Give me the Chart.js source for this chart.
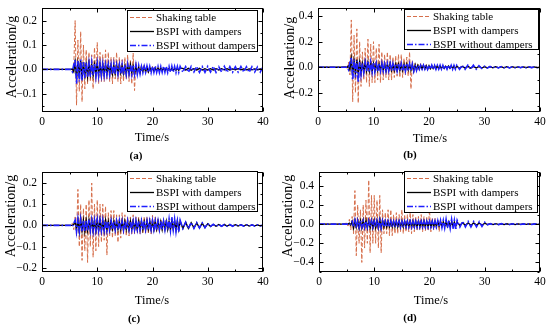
<!DOCTYPE html>
<html><head><meta charset="utf-8">
<script src="https://cdn.jsdelivr.net/npm/chart.js@4.4.1/dist/chart.umd.min.js"></script>
<style>
html,body{margin:0;padding:0;background:#fff;}
#wrap{position:relative;width:550px;height:328px;overflow:hidden;font-family:"Liberation Serif","Times New Roman",serif;color:#000;}
.pane{position:absolute;width:275px;height:164px;}
.pane canvas{display:block;}
.lbl{position:absolute;transform:translate(-50%,-50%);white-space:nowrap;font-size:12.5px;line-height:1;}
.ytl{transform:translate(-50%,-50%) rotate(-90deg);font-size:14px;}
.cap{font-weight:bold;font-size:11px;}
</style></head><body>
<div id="wrap">
  <div class="pane" style="left:0;top:0"><canvas id="ca" width="275" height="164"></canvas></div>
  <div class="pane" style="left:275px;top:0"><canvas id="cb" width="275" height="164"></canvas></div>
  <div class="pane" style="left:0;top:164px"><canvas id="cc" width="275" height="164"></canvas></div>
  <div class="pane" style="left:275px;top:164px"><canvas id="cd" width="275" height="164"></canvas></div>

  <div class="lbl ytl" style="left:12px;top:57px">Acceleration/g</div>
  <div class="lbl ytl" style="left:290px;top:58px">Acceleration/g</div>
  <div class="lbl ytl" style="left:11px;top:216px">Acceleration/g</div>
  <div class="lbl ytl" style="left:288px;top:216px">Acceleration/g</div>

  <div class="lbl" style="left:152px;top:137px">Time/s</div>
  <div class="lbl" style="left:430px;top:138px">Time/s</div>
  <div class="lbl" style="left:152px;top:300px">Time/s</div>
  <div class="lbl" style="left:431px;top:300px">Time/s</div>

  <div class="lbl cap" style="left:136px;top:155px">(a)</div>
  <div class="lbl cap" style="left:410px;top:154px">(b)</div>
  <div class="lbl cap" style="left:134px;top:318px">(c)</div>
  <div class="lbl cap" style="left:410px;top:317px">(d)</div>
</div>
<script>
// ---------- data ----------
const T = [0,1,2,3,4,
5,5.25,5.5,5.75,6,6.25,6.5,6.75,7,7.25,7.5,7.75,8,8.25,8.5,8.75,9,9.25,9.5,9.75,
10,10.25,10.5,10.75,11,11.25,11.5,11.75,12,12.25,12.5,12.75,13,13.25,13.5,13.75,14,14.25,14.5,14.75,
15,15.25,15.5,15.75,16,16.25,16.5,16.75,17,17.25,17.5,17.75,18,18.25,18.5,18.75,19,19.25,19.5,19.75,
20,20.25,20.5,20.75,21,21.25,21.5,21.75,22,22.25,22.5,22.75,23,23.25,23.5,23.75,24,24.25,24.5,24.75,25,
25.5,26,26.5,27,27.5,28,28.5,29,29.5,30,30.5,31,31.5,32,32.5,33,33.5,34,34.5,35,35.5,36,36.5,37,37.5,38,38.5,39,39.5,40];

const xTicks = [0,10,20,30,40];
const legendLabels = ['Shaking table','BSPI with dampers','BSPI without dampers'];

// (a)
const tableA = [0,0,0,0,0,
0,0.003,-0.004,0.012, 0.2,-0.147,0.12,-0.09, 0.155,-0.133,0.1,-0.08, 0.08,-0.06,0.07,-0.05, 0.06,-0.08,0.09,-0.05,
0.11,-0.06,0.07,-0.05, 0.06,-0.05,0.08,-0.04, 0.07,-0.05,0.05,-0.06, 0.05,-0.04,0.07,-0.05, 0.05,-0.06,0.04,-0.05,
0.05,-0.04,0.06,-0.05, 0.04,-0.06,0.067,-0.087, 0.03,-0.02,0.015,-0.02, 0.015,-0.01,0.02,-0.015, 0.01,-0.015,0.01,-0.01,
0.012,-0.008,0.01,-0.01, 0.008,-0.01,0.01,-0.006, 0.008,-0.006,0.006,-0.008, 0.005,-0.006,0.006,-0.004, 0.005,-0.004,0.004,-0.005, 0.004,
0.003,-0.003,0.003,-0.002,0.003,-0.003,0.002,-0.002,0.002,-0.003,0.002,-0.002,0.002,-0.002,0.002,-0.002,0.002,-0.002,0.001,-0.002,0.002,-0.001,0.001,-0.002,0.001,-0.001,0.001,-0.001,0.001,0];
const withA = [0,0,0,0,0,
0,0,0.002,-0.01, 0.03,-0.035,0.025,-0.02, 0.035,-0.04,0.03,-0.025, 0.02,-0.03,0.025,-0.02, 0.02,-0.025,0.02,-0.02,
0.025,-0.02,0.02,-0.025, 0.018,-0.02,0.02,-0.018, 0.02,-0.018,0.015,-0.02, 0.015,-0.018,0.02,-0.015, 0.018,-0.015,0.015,-0.018,
0.015,-0.02,0.018,-0.015, 0.02,-0.015,0.015,-0.02, 0.012,-0.015,0.01,-0.012, 0.01,-0.008,0.01,-0.01, 0.008,-0.01,0.008,-0.006,
0.006,-0.008,0.006,-0.006, 0.005,-0.005,0.006,-0.005, 0.005,-0.006,0.005,-0.005, 0.004,-0.005,0.005,-0.004, 0.004,-0.004,0.005,-0.004, 0.004,
0.004,-0.003,0.004,-0.004,0.003,-0.003,0.004,-0.003,0.003,-0.003,0.003,-0.003,0.003,-0.003,0.003,-0.002,0.003,-0.003,0.002,-0.002,0.003,-0.002,0.002,-0.002,0.002,-0.002,0.002,-0.002,0.002,0];
const withoutA = [0,0,0,0,0,
0,0,-0.01,0.02, 0.04,-0.06,0.035,-0.05, 0.04,-0.045,0.03,-0.035, 0.03,-0.03,0.025,-0.03, 0.028,-0.025,0.025,-0.03,
0.025,-0.028,0.022,-0.025, 0.022,-0.025,0.02,-0.022, 0.02,-0.022,0.02,-0.02, 0.022,-0.02,0.018,-0.02, 0.02,-0.018,0.02,-0.022,
0.018,-0.02,0.022,-0.018, 0.02,-0.02,0.018,-0.02, 0.018,-0.02,0.015,-0.018, 0.012,-0.014,0.012,-0.012, 0.014,-0.012,0.012,-0.014,
0.012,-0.012,0.014,-0.012, 0.012,-0.013,0.012,-0.012, 0.013,-0.012,0.012,-0.013, 0.012,-0.012,0.013,-0.012, 0.012,-0.013,0.012,-0.012, 0.012,
-0.012,0.011,-0.012,0.012,-0.011,0.012,-0.012,0.011,-0.012,0.012,-0.011,0.012,-0.012,0.011,-0.011,0.012,-0.012,0.011,-0.012,0.011,-0.011,0.012,-0.011,0.011,-0.012,0.011,-0.011,0.01,-0.011,0.01];
const yTicksA = [-0.1,0,0.1,0.2];
const yRangeA = [-0.175,0.25];

// (b)
const tableB = [0,0,0,0,0,
0.005,-0.01,0.04,-0.06, 0.37,-0.27,0.25,-0.2, 0.3,-0.28,0.2,-0.15, 0.12,-0.1,0.15,-0.12, 0.22,-0.15,0.18,-0.12,
0.2,-0.12,0.15,-0.1, 0.18,-0.12,0.12,-0.1, 0.1,-0.08,0.12,-0.1, 0.1,-0.1,0.08,-0.08, 0.09,-0.07,0.1,-0.08,
0.1,-0.08,0.07,-0.06, 0.08,-0.07,0.12,-0.17, 0.05,-0.04,0.03,-0.03, 0.025,-0.02,0.03,-0.02, 0.02,-0.02,0.02,-0.015,
0.015,-0.015,0.012,-0.012, 0.01,-0.01,0.012,-0.01, 0.01,-0.008,0.01,-0.01, 0.008,-0.01,0.008,-0.008, 0.008,-0.006,0.008,-0.006, 0.006,
-0.005,0.005,-0.004,0.005,-0.004,0.004,-0.004,0.004,-0.003,0.004,-0.003,0.003,-0.003,0.003,-0.003,0.003,-0.002,0.003,-0.002,0.002,-0.002,0.002,-0.002,0.002,-0.002,0.002,-0.001,0.002,-0.001,0];
const withB = [0,0,0,0,0,
0,0,0.01,-0.02, 0.07,-0.06,0.05,-0.05, 0.06,-0.05,0.04,-0.04, 0.03,-0.035,0.04,-0.03, 0.04,-0.03,0.035,-0.03,
0.03,-0.03,0.03,-0.025, 0.025,-0.025,0.028,-0.025, 0.025,-0.028,0.025,-0.022, 0.028,-0.025,0.022,-0.025, 0.025,-0.022,0.025,-0.025,
0.022,-0.025,0.025,-0.022, 0.025,-0.022,0.022,-0.025, 0.02,-0.03,0.02,-0.02, 0.015,-0.015,0.015,-0.012, 0.015,-0.012,0.012,-0.015,
0.012,-0.012,0.012,-0.01, 0.01,-0.01,0.01,-0.01, 0.01,-0.01,0.008,-0.01, 0.008,-0.01,0.01,-0.008, 0.01,-0.008,0.008,-0.008, 0.008,
-0.008,0.008,-0.007,0.008,-0.007,0.007,-0.006,0.006,-0.006,0.005,-0.005,0.005,-0.005,0.004,-0.004,0.004,-0.004,0.004,-0.004,0.004,-0.003,0.003,-0.003,0.003,-0.003,0.003,-0.003,0.003,-0.003,0];
const withoutB = [0,0,0,0,0,
0,0,-0.02,0.04, 0.08,-0.1,0.06,-0.08, 0.05,-0.12,0.04,-0.06, 0.03,-0.04,0.04,-0.03, 0.05,-0.04,0.04,-0.04,
0.04,-0.035,0.03,-0.035, 0.03,-0.03,0.032,-0.03, 0.028,-0.03,0.03,-0.028, 0.03,-0.028,0.028,-0.03, 0.028,-0.03,0.03,-0.03,
0.03,-0.028,0.028,-0.03, 0.03,-0.03,0.028,-0.028, 0.025,-0.03,0.02,-0.025, 0.015,-0.016,0.015,-0.015, 0.016,-0.015,0.015,-0.016,
0.015,-0.015,0.016,-0.015, 0.015,-0.016,0.015,-0.015, 0.016,-0.015,0.015,-0.016, 0.015,-0.015,0.016,-0.015, 0.015,-0.016,0.015,-0.015, 0.015,
-0.016,0.015,-0.016,0.016,-0.015,0.016,-0.015,0.012,-0.01,0.008,-0.007,0.006,-0.006,0.006,-0.005,0.005,-0.005,0.005,-0.005,0.004,-0.004,0.004,-0.004,0.004,-0.004,0.003,-0.003,0.003,-0.003,0.003];
const yTicksB = [-0.2,0,0.2,0.4];
const yRangeB = [-0.35,0.46];

// (c)
const tableC = [0,0,0,0,0,
0,0.005,0.01,-0.02, 0.04,-0.05,0.17,-0.1, 0.1,-0.165,0.08,-0.12, 0.1,-0.175,0.12,-0.1, 0.2,-0.15,0.1,-0.12,
0.12,-0.1,0.1,-0.08, 0.1,-0.07,0.09,-0.14, 0.06,-0.05,0.07,-0.06, 0.07,-0.05,0.05,-0.08, 0.05,-0.06,0.06,-0.04,
0.05,-0.05,0.04,-0.05, 0.04,-0.04,0.05,-0.04, 0.04,-0.035,0.04,-0.04, 0.035,-0.04,0.04,-0.035, 0.04,-0.04,0.035,-0.04,
0.048,-0.03,0.04,-0.03, 0.03,-0.03,0.025,-0.025, 0.02,-0.02,0.022,-0.02, 0.02,-0.022,0.02,-0.018, 0.018,-0.02,0.018,-0.015, 0.015,
-0.01,0.01,-0.01,0.01,-0.008,0.008,-0.008,0.007,-0.006,0.006,-0.005,0.004,-0.004,0.004,-0.004,0.004,-0.003,0.003,-0.003,0.003,-0.003,0.003,-0.003,0.003,-0.002,0.002,-0.002,0.002,-0.002,0];
const withC = [0,0,0,0,0,
0,0,0,0.005, 0.02,-0.02,0.025,-0.03, 0.03,-0.025,0.025,-0.03, 0.025,-0.025,0.025,-0.022, 0.025,-0.025,0.022,-0.025,
0.025,-0.022,0.025,-0.025, 0.022,-0.025,0.025,-0.022, 0.02,-0.02,0.02,-0.018, 0.02,-0.018,0.02,-0.02, 0.018,-0.02,0.02,-0.02,
0.02,-0.02,0.018,-0.02, 0.02,-0.018,0.02,-0.02, 0.018,-0.02,0.02,-0.018, 0.02,-0.02,0.018,-0.02, 0.02,-0.018,0.02,-0.02,
0.018,-0.02,0.02,-0.018, 0.02,-0.02,0.018,-0.02, 0.02,-0.018,0.02,-0.02, 0.018,-0.02,0.02,-0.018, 0.02,-0.02,0.022,-0.02, 0.02,
-0.015,0.015,-0.014,0.013,-0.012,0.012,-0.011,0.01,-0.01,0.008,-0.005,0.004,-0.004,0.004,-0.004,0.004,-0.003,0.003,-0.003,0.003,-0.003,0.003,-0.003,0.003,-0.003,0.002,-0.002,0.002,-0.002,0];
const withoutC = [0,0,0,0,0,
0,0,-0.005,0.01, 0.025,-0.03,0.03,-0.025, 0.03,-0.03,0.025,-0.03, 0.025,-0.025,0.028,-0.025, 0.025,-0.028,0.025,-0.025,
0.028,-0.025,0.025,-0.025, 0.025,-0.025,0.022,-0.025, 0.02,-0.02,0.022,-0.02, 0.02,-0.022,0.02,-0.02, 0.022,-0.02,0.02,-0.022,
0.02,-0.02,0.022,-0.02, 0.02,-0.022,0.02,-0.02, 0.022,-0.02,0.02,-0.022, 0.02,-0.02,0.022,-0.02, 0.02,-0.022,0.02,-0.02,
0.022,-0.02,0.02,-0.022, 0.02,-0.02,0.022,-0.02, 0.02,-0.02,0.025,-0.02, 0.03,-0.025,0.04,-0.02, 0.03,-0.03,0.02,-0.03, 0.025,
-0.015,0.015,-0.015,0.014,-0.014,0.013,-0.012,0.012,-0.011,0.01,-0.005,0.005,-0.005,0.005,-0.004,0.004,-0.004,0.004,-0.004,0.004,-0.003,0.003,-0.003,0.003,-0.003,0.003,-0.003,0.003,-0.002,0.002];
const yTicksC = [-0.2,-0.1,0,0.1,0.2];
const yRangeC = [-0.22,0.25];

// (d)
const tableD = [0,0,0,0,0,
0.01,-0.02,0.05,-0.06, 0.08,-0.1,0.35,-0.33, 0.2,-0.2,0.15,-0.4, 0.2,-0.25,0.25,-0.2, 0.46,-0.3,0.3,-0.2,
0.3,-0.2,0.25,-0.25, 0.3,-0.3,0.15,-0.1, 0.12,-0.1,0.15,-0.12, 0.15,-0.12,0.1,-0.1, 0.12,-0.1,0.1,-0.08,
0.15,-0.1,0.1,-0.08, 0.1,-0.08,0.12,-0.1, 0.1,-0.08,0.08,-0.06, 0.08,-0.06,0.1,-0.08, 0.08,-0.07,0.07,-0.06,
0.15,-0.08,0.06,-0.06, 0.06,-0.05,0.05,-0.08, 0.04,-0.03,0.03,-0.03, 0.02,-0.02,0.02,-0.02, 0.02,-0.015,0.015,-0.015, 0.01,
-0.008,0.008,-0.007,0.007,-0.006,0.006,-0.006,0.005,-0.005,0.005,-0.004,0.004,-0.004,0.004,-0.004,0.003,-0.003,0.003,-0.003,0.003,-0.003,0.003,-0.002,0.002,-0.002,0.002,-0.002,0.002,-0.002,0];
const withD = [0,0,0,0,0,
0,0,0.01,-0.01, 0.03,-0.04,0.04,-0.03, 0.04,-0.04,0.035,-0.04, 0.04,-0.035,0.04,-0.04, 0.035,-0.04,0.04,-0.035,
0.04,-0.04,0.035,-0.04, 0.05,-0.04,0.04,-0.03, 0.03,-0.03,0.03,-0.028, 0.03,-0.028,0.03,-0.03, 0.028,-0.03,0.03,-0.03,
0.03,-0.03,0.028,-0.03, 0.03,-0.028,0.03,-0.03, 0.028,-0.03,0.03,-0.028, 0.03,-0.03,0.028,-0.03, 0.03,-0.028,0.03,-0.03,
0.028,-0.03,0.03,-0.028, 0.025,-0.025,0.025,-0.022, 0.025,-0.022,0.025,-0.025, 0.022,-0.025,0.025,-0.022, 0.025,-0.025,0.022,-0.025, 0.022,
-0.015,0.015,-0.015,0.014,-0.014,0.013,-0.012,0.012,-0.011,0.01,-0.005,0.005,-0.005,0.005,-0.005,0.004,-0.004,0.004,-0.004,0.004,-0.004,0.003,-0.003,0.003,-0.003,0.003,-0.003,0.003,-0.003,0];
const withoutD = [0,0,0,0,0,
0,0,-0.01,0.01, 0.03,-0.03,0.04,-0.04, 0.035,-0.035,0.035,-0.03, 0.035,-0.035,0.03,-0.035, 0.035,-0.03,0.035,-0.035,
0.03,-0.035,0.035,-0.035, 0.04,-0.04,0.035,-0.03, 0.03,-0.03,0.03,-0.03, 0.03,-0.03,0.028,-0.03, 0.03,-0.028,0.03,-0.03,
0.028,-0.03,0.03,-0.028, 0.03,-0.03,0.028,-0.03, 0.03,-0.028,0.03,-0.03, 0.028,-0.03,0.03,-0.028, 0.03,-0.03,0.028,-0.03,
0.03,-0.028,0.03,-0.03, 0.03,-0.03,0.035,-0.03, 0.04,-0.035,0.04,-0.04, 0.05,-0.04,0.04,-0.045, 0.05,-0.05,0.04,-0.06, 0.04,
-0.03,0.03,-0.03,0.028,-0.03,0.028,-0.028,0.025,-0.025,0.02,-0.006,0.005,-0.005,0.005,-0.005,0.005,-0.004,0.004,-0.004,0.004,-0.004,0.004,-0.003,0.003,-0.003,0.003,-0.003,0.003,-0.003,0.003];
const yTicksD = [-0.4,-0.2,0,0.2,0.4];
const yRangeD = [-0.5,0.54];

// ---------- styling / layout ----------
const SERIF = '"Liberation Serif", "Times New Roman", serif';
const TABLE_C = '#d66f4c';
const BLUE_C = '#1f1fff';

const panels = [
  {id:'ca', table:tableA, w:withA, wo:withoutA, yTicks:yTicksA, yRange:yRangeA, area:{l:42,r:263,t:5,b:112}, legend:{x:127,y:10,w:130,h:41}},
  {id:'cb', table:tableB, w:withB, wo:withoutB, yTicks:yTicksB, yRange:yRangeB, area:{l:43,r:265,t:5,b:112}, legend:{x:129,y:9,w:134,h:40}},
  {id:'cc', table:tableC, w:withC, wo:withoutC, yTicks:yTicksC, yRange:yRangeC, area:{l:42,r:263,t:4,b:108}, legend:{x:127,y:7,w:130,h:40}},
  {id:'cd', table:tableD, w:withD, wo:withoutD, yTicks:yTicksD, yRange:yRangeD, area:{l:44,r:265,t:4,b:108}, legend:{x:129,y:7,w:133,h:41}}
];

function fmt(v){ return (v < 0 ? '\u2212' : '') + Math.abs(v).toFixed(1); }

function framePlugin(p){
  return {
    id: 'frame_' + p.id,
    afterDraw(chart){
      const c = chart.ctx, a = chart.chartArea, xs = chart.scales.x, ys = chart.scales.y;
      c.save();
      c.strokeStyle = '#000'; c.lineWidth = 1; c.setLineDash([]);
      const L = Math.round(a.left)+0.5, R = Math.round(a.right)-0.5, TP = Math.round(a.top)+0.5, B = Math.round(a.bottom)-0.5;
      c.strokeRect(L, TP, R-L, B-TP);
      c.beginPath();
      const MJ = 4, MN = 2;
      const xt = xTicks;
      const xStep = xt[1]-xt[0];
      const xMinor = [];
      for (let i=0;i<xt.length-1;i++) xMinor.push(xt[i]+xStep/2);
      xt.forEach(v=>{ const px = Math.round(xs.getPixelForValue(v))+0.5; c.moveTo(px,B); c.lineTo(px,B-MJ); c.moveTo(px,TP); c.lineTo(px,TP+MJ); });
      xMinor.forEach(v=>{ const px = Math.round(xs.getPixelForValue(v))+0.5; c.moveTo(px,B); c.lineTo(px,B-MN); c.moveTo(px,TP); c.lineTo(px,TP+MN); });
      const yt = p.yTicks, yStep = yt[1]-yt[0];
      const yMinor = [];
      for (let v = yt[0]-yStep/2; v >= p.yRange[0]-1e-9; v -= yStep) yMinor.push(v);
      for (let i=0;i<yt.length-1;i++) yMinor.push(yt[i]+yStep/2);
      for (let v = yt[yt.length-1]+yStep/2; v <= p.yRange[1]+1e-9; v += yStep) yMinor.push(v);
      yt.forEach(v=>{ const py = Math.round(ys.getPixelForValue(v))+0.5; c.moveTo(L,py); c.lineTo(L+MJ,py); c.moveTo(R,py); c.lineTo(R-MJ,py); });
      yMinor.forEach(v=>{ const py = Math.round(ys.getPixelForValue(v))+0.5; c.moveTo(L,py); c.lineTo(L+MN,py); c.moveTo(R,py); c.lineTo(R-MN,py); });
      c.stroke();
      // legend
      const lg = p.legend;
      c.fillStyle = '#fff'; c.fillRect(lg.x, lg.y, lg.w, lg.h);
      c.strokeStyle = '#000'; c.lineWidth = 1; c.strokeRect(lg.x+0.5, lg.y+0.5, lg.w, lg.h);
      chart.data.datasets.forEach((ds,i)=>{
        const yy = Math.round(lg.y + 6.5 + i*14) + 0.5;
        c.save();
        c.strokeStyle = ds.borderColor; c.lineWidth = ds.borderWidth; c.setLineDash(ds.borderDash || []);
        c.beginPath(); c.moveTo(lg.x+3, yy); c.lineTo(lg.x+27, yy); c.stroke();
        c.restore();
        c.fillStyle = '#000'; c.font = '11px ' + SERIF; c.textBaseline = 'middle'; c.textAlign = 'left';
        c.fillText(ds.label, lg.x+29, yy+0.5);
      });
      c.restore();
    }
  };
}

function makePanel(p){
  const ctx = document.getElementById(p.id).getContext('2d');
  const pts = arr => T.map((t,i)=>({x:t, y:arr[i]}));
  new Chart(ctx, {
    type: 'line',
    data: { datasets: [
      {label: legendLabels[0], data: pts(p.table), borderColor: TABLE_C, borderWidth: 1, borderDash: [4,2], order: 3},
      {label: legendLabels[1], data: pts(p.w), borderColor: '#000000', borderWidth: 1.3, order: 2},
      {label: legendLabels[2], data: pts(p.wo), borderColor: BLUE_C, borderWidth: 1.6, borderDash: [6,2,1.5,2], order: 1}
    ]},
    options: {
      responsive: false, animation: false, devicePixelRatio: 1,
      elements: { point: {radius: 0, hitRadius: 0}, line: {tension: 0, fill: false} },
      layout: { padding: {left: 0, top: p.area.t, right: 275 - p.area.r, bottom: 0} },
      plugins: { legend: {display: false}, tooltip: {enabled: false}, title: {display: false} },
      events: [],
      scales: {
        x: {
          type: 'linear', min: 0, max: 40,
          afterBuildTicks: s => { s.ticks = xTicks.map(v => ({value: v})); },
          afterFit: s => { s.height = 164 - p.area.b; },
          grid: {display: false, drawTicks: false}, border: {display: false},
          ticks: {font: {family: SERIF, size: 11.5}, color: '#000', padding: 3, maxRotation: 0, autoSkip: false, callback: v => String(v)}
        },
        y: {
          type: 'linear', min: p.yRange[0], max: p.yRange[1],
          afterBuildTicks: s => { s.ticks = p.yTicks.map(v => ({value: v})); },
          afterFit: s => { s.width = p.area.l; },
          grid: {display: false, drawTicks: false}, border: {display: false},
          ticks: {font: {family: SERIF, size: 11.5, lineHeight: 0.6}, color: '#000', padding: 5, autoSkip: false, callback: v => fmt(v)}
        }
      }
    },
    plugins: [framePlugin(p)]
  });
}
panels.forEach(makePanel);
</script>
</body></html>
